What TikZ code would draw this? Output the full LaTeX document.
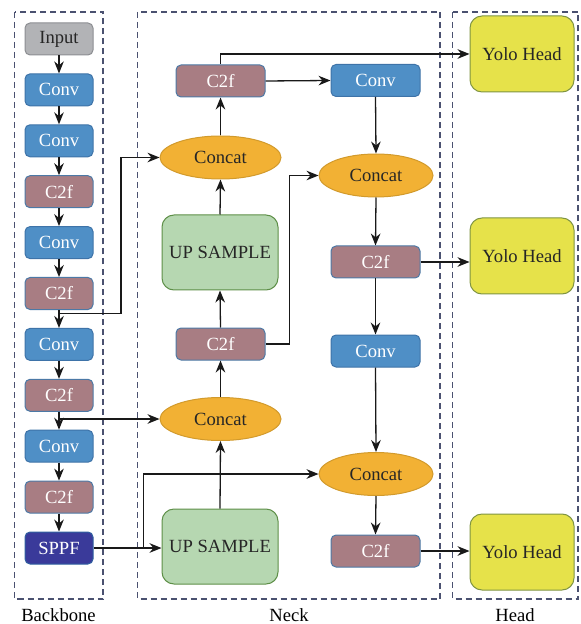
\documentclass[tikz,border=0pt]{standalone}
\usepackage{fontspec}
\setmainfont{Liberation Serif}
\usepackage{xcolor}
\usepackage{tikz}
\usetikzlibrary{arrows.meta, positioning, calc, shapes.geometric}

\definecolor{inpfill}{HTML}{B2B3B6}
\definecolor{inpline}{HTML}{8C8E92}
\definecolor{convfill}{HTML}{4F8FC6}
\definecolor{convline}{HTML}{3E73A8}
\definecolor{cffill}{HTML}{A87D83}
\definecolor{cfline}{HTML}{4C79A6}
\definecolor{sppffill}{HTML}{3A3A9A}
\definecolor{sppfline}{HTML}{3060A0}
\definecolor{catfill}{HTML}{F2B134}
\definecolor{catline}{HTML}{D29A2C}
\definecolor{upfill}{HTML}{B6D7B1}
\definecolor{upline}{HTML}{5E8F48}
\definecolor{yolofill}{HTML}{E6E24A}
\definecolor{yololine}{HTML}{7F9442}
\definecolor{framecol}{HTML}{4A5170}

\begin{document}
\begin{tikzpicture}[x=0.5pt, y=-0.5pt, node distance=8.95pt,
    font=\fontsize{9.3}{11}\selectfont, >={Stealth[length=6pt, width=4.8pt]},
    blk/.style={draw, rectangle, rounded corners=2.5pt, line width=0.5pt, inner sep=0pt, minimum height=16pt},
    bbox/.style={blk, minimum width=34pt},
    nbox/.style={blk, minimum width=44.5pt},
    inpbox/.style={bbox, fill=inpfill, draw=inpline, text=black!85},
    convcol/.style={fill=convfill, draw=convline, text=white},
    cfcol/.style={fill=cffill, draw=cfline, text=white},
    sppfbox/.style={bbox, fill=sppffill, draw=sppfline, text=white},
    cat/.style={draw=catline, fill=catfill, ellipse, line width=0.5pt, inner sep=0pt, minimum height=21.5pt, text=black!85},
    upbox/.style={draw=upline, fill=upfill, rectangle, rounded corners=6pt, line width=0.5pt, minimum width=58pt, minimum height=37.5pt, text=black!85},
    yolo/.style={draw=yololine, fill=yolofill, rectangle, rounded corners=6pt, line width=0.5pt, minimum width=52pt, minimum height=38pt, text=black!85},
    link/.style={->, line width=0.65pt, black!90},
    frame/.style={draw=framecol, dash pattern=on 3pt off 2pt, line width=0.75pt}]
    \useasboundingbox (0,0) rectangle (581,624);

    % group frames
    \draw[frame] (14.5,12) rectangle (103,599);
    \draw[frame] (137.5,12) rectangle (440,599);
    \draw[frame] (452.5,12) rectangle (578,599);
    \node (lbb) at (58.5,615) {Backbone};
    \node (lneck) at (289,615) {Neck};
    \node (lhead) at (515,615) {Head};

    % backbone
    \node[inpbox] (inp) at (59,39) {Input};
    \node[bbox, convcol, below=of inp] (bc1) {Conv};
    \node[bbox, convcol, below=of bc1] (bc2) {Conv};
    \node[bbox, cfcol, below=of bc2] (bf1) {C2f};
    \node[bbox, convcol, below=of bf1] (bc3) {Conv};
    \node[bbox, cfcol, below=of bc3] (bf2) {C2f};
    \node[bbox, convcol, below=of bf2] (bc4) {Conv};
    \node[bbox, cfcol, below=of bc4] (bf3) {C2f};
    \node[bbox, convcol, below=of bf3] (bc5) {Conv};
    \node[bbox, cfcol, below=of bc5] (bf4) {C2f};
    \node[sppfbox, below=of bf4] (sppf) {SPPF};

    % neck, left column
    \node[nbox, cfcol] (nfa) at (220.5,81) {C2f};
    \node[cat, minimum width=60.5pt] (cata) at (220.5,157.5) {Concat};
    \node[upbox] (upa) at (220,252.5) {UP SAMPLE};
    \node[nbox, cfcol] (nfb) at (220.5,344) {C2f};
    \node[cat, minimum width=60.5pt] (catc) at (220.5,419) {Concat};
    \node[upbox] (upb) at (220,546.5) {UP SAMPLE};

    % neck, right column
    \node[nbox, convcol] (nca) at (375.5,80.5) {Conv};
    \node[cat, minimum width=57pt] (catb) at (376,175.5) {Concat};
    \node[nbox, cfcol] (nfc) at (375.5,262) {C2f};
    \node[nbox, convcol] (ncb) at (375.5,351) {Conv};
    \node[cat, minimum width=57pt] (catd) at (376,474) {Concat};
    \node[nbox, cfcol] (nfd) at (375.5,551) {C2f};

    % heads
    \node[yolo] (hd1) at (522,54) {Yolo Head};
    \node[yolo] (hd2) at (522,256) {Yolo Head};
    \node[yolo] (hd3) at (522,552) {Yolo Head};

    \coordinate (j1) at ($(bf2.south)!0.2!(bc4.north)$);
    \coordinate (j2) at ($(sppf.east)!0.74!(sppf.east -| upb.west)$);

    \draw[link] (inp) -- (bc1);
    \draw[link] (bc1) -- (bc2);
    \draw[link] (bc2) -- (bf1);
    \draw[link] (bf1) -- (bc3);
    \draw[link] (bc3) -- (bf2);
    \draw[link] (bf2) -- (bc4);
    \draw[link] (bc4) -- (bf3);
    \draw[link] (bf3) -- (bc5);
    \draw[link] (bc5) -- (bf4);
    \draw[link] (bf4) -- (sppf);

    \draw[link] (j1) -- ++(62,0) |- (cata.west);
    \draw[link] (catc.west -| bf3) -- (catc.west);
    \draw[link] (sppf.east) -- (sppf.east -| upb.west);
    \draw[link] (j2) |- (catd.west);

    \draw[link] (upb.north) -- (catc.south);
    \draw[link] (catc.north) -- (nfb.south);
    \draw[link] (nfb.north) -- (upa.south);
    \draw[link] (upa.north) -- (cata.south);
    \draw[link] (cata.north) -- (nfa.south);
    \draw[link] (nfa.east) -- (nca.west);
    \draw[link] (nfb.east) -- ++(24,0) |- (catb.west);

    \draw[link] (nca.south) -- (catb.north);
    \draw[link] (catb.south) -- (nfc.north);
    \draw[link] (nfc.south) -- (ncb.north);
    \draw[link] (ncb.south) -- (catd.north);
    \draw[link] (catd.south) -- (nfd.north);

    \draw[link] (nfa.north) |- (hd1.west);
    \draw[link] (nfc.east) -- (nfc.east -| hd2.west);
    \draw[link] (nfd.east) -- (nfd.east -| hd3.west);
\end{tikzpicture}
\end{document}
